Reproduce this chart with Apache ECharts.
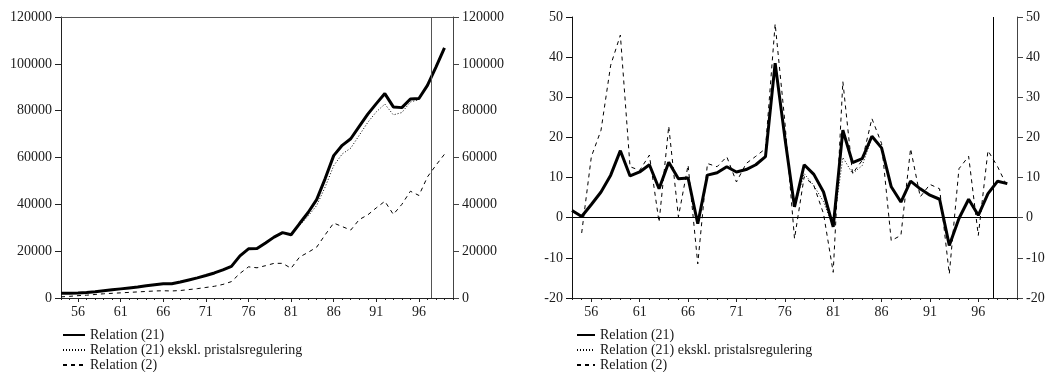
<!DOCTYPE html>
<html>
<head>
<meta charset="utf-8">
<script src="https://cdn.jsdelivr.net/npm/echarts@6/dist/echarts.min.js"></script>
<style>
html,body{margin:0;padding:0;background:#fff;}
#c{width:1051px;height:372px;}
</style>
</head>
<body>
<div id="c"></div>
<script>
const years = [54,55,56,57,58,59,60,61,62,63,64,65,66,67,68,69,70,71,72,73,74,75,76,77,78,79,80,81,82,83,84,85,86,87,88,89,90,91,92,93,94,95,96,97,98,99];
const tickYears = [56,61,66,71,76,81,86,91,96];
const seriesNames = ['Relation (21)', 'Relation (21) ekskl. pristalsregulering', 'Relation (2)'];

// Left panel: levels
const leftSolid = [2000,2050,2150,2350,2700,3100,3500,3900,4300,4700,5200,5700,6100,6100,6800,7700,8600,9600,10700,12000,13500,18000,21000,21100,23500,26000,27900,27000,31800,36500,42000,51000,60800,65200,68000,73300,78500,83000,87300,81600,81300,85000,85200,90800,98600,106800];
const leftDotted = [2000,2050,2150,2350,2700,3100,3500,3900,4300,4700,5200,5700,6100,6100,6800,7700,8600,9600,10700,12000,13400,17800,20700,20900,23200,25700,27600,27000,31000,35000,39500,47400,56500,61500,64000,69500,75000,79500,82800,78200,79200,83700,84700,90700,98500,106700];
const leftDashed = [500,700,1000,1200,1500,1800,2000,2200,2400,2600,2800,3000,3100,3000,3200,3600,4000,4500,5000,5800,7000,10500,13300,12900,13800,14800,14800,12700,17500,19500,21700,27000,32000,30500,29000,33500,35500,38500,41300,35700,40000,45600,43800,51700,56700,61400];

// Right panel: growth rates
const rightSolid = [1.8,0.3,3.3,6.4,10.6,16.7,10.4,11.4,13.2,7.2,13.8,9.7,9.9,-1.5,10.6,11.2,12.7,11.4,12,13.2,15.2,38.5,20,2.7,13.2,10.8,6.4,-2.3,21.8,13.7,14.7,20.3,17.4,7.7,3.9,9.1,7.2,5.6,4.6,-6.9,-0.2,4.6,0.6,6,9.1,8.5];
const rightDotted = [1.8,0.3,3.3,6.4,10.6,16.7,10.4,11.4,13.2,7.2,13.8,9.7,9.9,-1.5,10.6,11.2,12.7,11.4,12,13.2,15.2,38.5,20,2.7,11,8,4,-2.3,15,11,13,20,17.5,7.7,3.9,9.1,7.2,5.6,4.6,-6.9,-0.2,4.6,0.6,6,9.1,8.5];
const rightDashed = [null,-3.8,15.2,21.8,38,45.5,12.7,11.8,15.6,-1.1,22.8,0.2,13.1,-11.5,13.5,12.7,15.2,8.9,13.5,15.3,17.2,48.3,24,-5.2,10.2,8,1,-13.6,33.9,11,14.3,24.7,18.5,-5.7,-4.4,17.2,5.2,8.3,7.2,-14,12.2,15.3,-4.4,16.7,12.7,7.7];

const splitYear = 97.5;

const FONT = 'Liberation Serif';
const TXT = '#1a1a1a';
const pair = arr => years.map((y,i) => [y, arr[i]]);
const plain = v => String(v);

function mainX(grid, color) {
  return {
    type: 'value', gridIndex: grid, min: 54, max: 100, position: 'bottom',
    axisLine: {show: true, onZero: false, lineStyle: {color: color, width: 1}},
    axisTick: {show: true, inside: false, length: 4, customValues: tickYears, lineStyle: {color: color}},
    axisLabel: {show: true, customValues: tickYears, margin: 7, fontFamily: FONT, fontSize: 14, color: TXT, formatter: plain},
    splitLine: {show: false}
  };
}
function minorX(grid, color) {
  return {
    type: 'value', gridIndex: grid, min: 54, max: 100, interval: 1, position: 'bottom',
    axisLine: {show: false, onZero: false},
    axisTick: {show: true, inside: false, length: 2, lineStyle: {color: color}},
    axisLabel: {show: false}, splitLine: {show: false}
  };
}
function yAx(grid, pos, min, max, interval, color) {
  return {
    type: 'value', gridIndex: grid, position: pos, min: min, max: max, interval: interval,
    axisLine: {show: true, onZero: false, lineStyle: {color: color, width: 1}},
    axisTick: {show: true, inside: false, length: 6, lineStyle: {color: color}},
    axisLabel: {show: true, margin: 9, fontFamily: FONT, fontSize: 14, color: TXT, formatter: plain},
    splitLine: {show: false}
  };
}

const solidStyle = {color: '#000', width: 3, type: 'solid'};
const dottedStyle = {color: '#000', width: 1, type: [1, 2]};
const dashedStyle = {color: '#000', width: 1, type: [4, 4]};

function lineSeries(name, data, style, xi, yi, z, markLine) {
  const s = {
    name: name, type: 'line', xAxisIndex: xi, yAxisIndex: yi, data: data,
    symbol: 'none', showSymbol: false, lineStyle: style, itemStyle: {color: '#000'},
    z: z, animation: false, connectNulls: false
  };
  if (markLine) s.markLine = markLine;
  return s;
}

const chart = echarts.init(document.getElementById('c'), null, {renderer: 'canvas'});
const legendCommon = {
  orient: 'vertical', padding: 0, itemGap: 1, itemHeight: 12,
  itemStyle: {opacity: 0},
  textStyle: {fontFamily: FONT, fontSize: 14, color: TXT, lineHeight: 14},
  data: seriesNames, selectedMode: false
};
chart.setOption({
  animation: false,
  backgroundColor: '#fff',
  grid: [
    {left: 61, top: 17, width: 392, height: 281, containLabel: false},
    {left: 572, top: 17, width: 445, height: 281, containLabel: false}
  ],
  xAxis: [
    mainX(0, '#222'),
    minorX(0, '#222'),
    {type: 'value', gridIndex: 0, min: 54, max: 100, position: 'top',
     axisLine: {show: true, onZero: false, lineStyle: {color: '#555', width: 1}},
     axisTick: {show: false}, axisLabel: {show: false}, splitLine: {show: false}},
    mainX(1, '#222'),
    minorX(1, '#222')
  ],
  yAxis: [
    yAx(0, 'left', 0, 120000, 20000, '#222'),
    yAx(0, 'right', 0, 120000, 20000, '#444'),
    yAx(1, 'left', -20, 50, 10, '#111'),
    yAx(1, 'right', -20, 50, 10, '#444')
  ],
  legend: [
    Object.assign({}, legendCommon, {left: 62, top: 328, itemWidth: 22}),
    Object.assign({}, legendCommon, {left: 576, top: 328, itemWidth: 18})
  ],
  series: [
    lineSeries(seriesNames[1], pair(leftDotted), dottedStyle, 0, 0, 2),
    lineSeries(seriesNames[2], pair(leftDashed), dashedStyle, 0, 0, 2),
    lineSeries(seriesNames[0], pair(leftSolid), solidStyle, 0, 0, 4, {
      silent: true, symbol: ['none','none'], label: {show: false},
      lineStyle: {color: '#555', width: 1, type: 'solid'},
      data: [{xAxis: splitYear}]
    }),
    lineSeries(seriesNames[1], pair(rightDotted), dottedStyle, 3, 2, 2),
    lineSeries(seriesNames[2], pair(rightDashed), dashedStyle, 3, 2, 2),
    lineSeries(seriesNames[0], pair(rightSolid), solidStyle, 3, 2, 4, {
      silent: true, symbol: ['none','none'], label: {show: false},
      lineStyle: {color: '#000', width: 1, type: 'solid'},
      data: [{xAxis: splitYear}, {yAxis: 0}]
    })
  ]
});
</script>
</body>
</html>
